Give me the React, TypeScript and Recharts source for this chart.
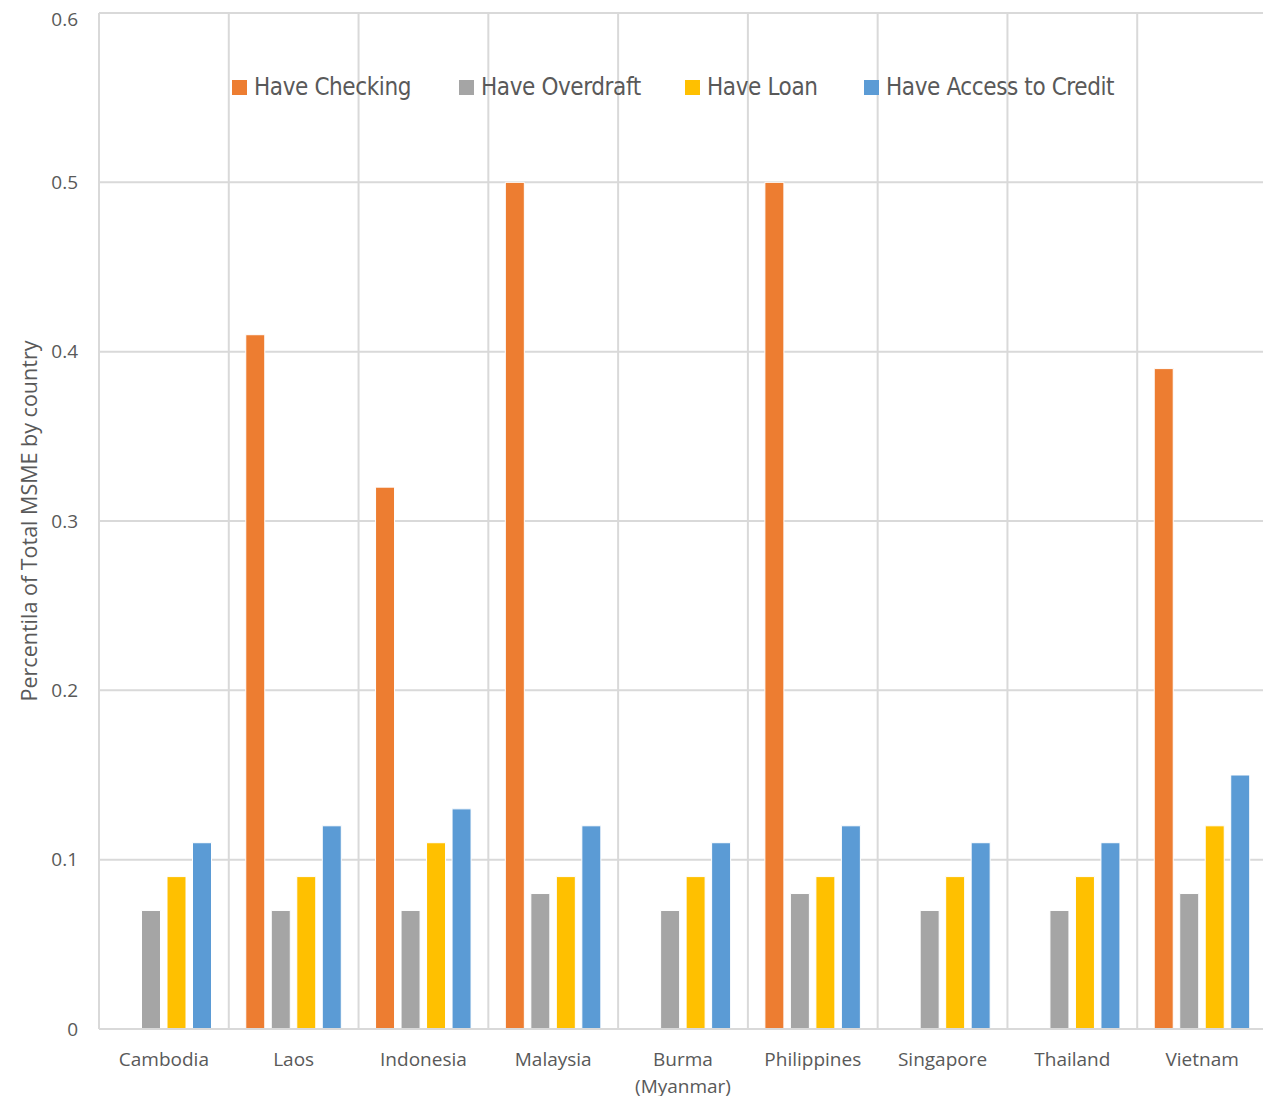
import React from "react";
import { Bar, BarChart, CartesianGrid, XAxis, YAxis } from "recharts";

const countries = [
  "Cambodia",
  "Laos",
  "Indonesia",
  "Malaysia",
  "Burma (Myanmar)",
  "Philippines",
  "Singapore",
  "Thailand",
  "Vietnam",
];
const haveChecking = [0, 0.41, 0.32, 0.5, 0, 0.5, 0, 0, 0.39];
const haveOverdraft = [0.07, 0.07, 0.07, 0.08, 0.07, 0.08, 0.07, 0.07, 0.08];
const haveLoan = [0.09, 0.09, 0.11, 0.09, 0.09, 0.09, 0.09, 0.09, 0.12];
const haveCredit = [0.11, 0.12, 0.13, 0.12, 0.11, 0.12, 0.11, 0.11, 0.15];
const yTicks = [0, 0.1, 0.2, 0.3, 0.4, 0.5, 0.6];

const series = [
  { key: "checking", name: "Have Checking", color: "#ED7D31" },
  { key: "overdraft", name: "Have Overdraft", color: "#A5A5A5" },
  { key: "loan", name: "Have Loan", color: "#FFC000" },
  { key: "credit", name: "Have Access to Credit", color: "#5B9BD5" },
];

const data = countries.map((name, i) => ({
  name,
  checking: haveChecking[i],
  overdraft: haveOverdraft[i],
  loan: haveLoan[i],
  credit: haveCredit[i],
}));

const tickFont = "'Open Sans', 'Liberation Sans', sans-serif";
const legendItemWidths = [227, 226, 179, 280];

function CountryTick({ x, y, payload }: any) {
  const lines = String(payload.value).replace(" (", "\n(").split("\n");
  return (
    <text x={x} y={y} textAnchor="middle" fill="#595959" fontSize={19} fontFamily={tickFont}>
      {lines.map((line, i) => (
        <tspan key={i} x={x} dy={i === 0 ? 29 : 27}>
          {line}
        </tspan>
      ))}
    </text>
  );
}

function TopLegend() {
  return (
    <div
      style={{
        position: "absolute",
        top: 63,
        left: 224,
        display: "flex",
        fontFamily: "'DejaVu Sans Condensed', 'Liberation Sans', sans-serif",
        fontSize: 24,
        letterSpacing: -0.4,
        color: "#595959",
        lineHeight: "32px",
        pointerEvents: "none",
      }}
    >
      {series.map((s, i) => (
        <div key={s.key} style={{ display: "flex", alignItems: "center", width: legendItemWidths[i] }}>
          <span
            style={{ width: 15, height: 15, background: s.color, marginRight: 7, display: "inline-block" }}
          />
          <span style={{ whiteSpace: "nowrap" }}>{s.name}</span>
        </div>
      ))}
    </div>
  );
}

// vertical grid lines sit on category boundaries, like the Excel original
const boundaryLines = ({ offset }: any) =>
  Array.from({ length: countries.length + 1 }, (_, i) => offset.left + (i * offset.width) / countries.length);

export default function App() {
  return (
    <div style={{ position: "relative", width: 1263, height: 1088, background: "#fff" }}>
      <BarChart
        width={1263}
        height={1088}
        data={data}
        margin={{ top: 5, right: 4, left: 0, bottom: 7 }}
        barSize={19}
        barGap={6.5}
      >
        <CartesianGrid
          stroke="#d9d9d9"
          strokeWidth={2}
          verticalCoordinatesGenerator={boundaryLines}
        />
        <XAxis
          dataKey="name"
          height={60}
          interval={0}
          tickLine={false}
          axisLine={{ stroke: "#d9d9d9", strokeWidth: 2 }}
          tick={<CountryTick />}
        />
        <YAxis
          width={91}
          domain={[0, 0.6]}
          ticks={yTicks}
          tickLine={false}
          axisLine={{ stroke: "#d9d9d9", strokeWidth: 2 }}
          tickMargin={15}
          tick={{ fill: "#595959", fontSize: 19, fontFamily: tickFont }}
          label={{
            value: "Percentila of Total MSME by country",
            angle: -90,
            position: "insideLeft",
            offset: 21,
            style: { textAnchor: "middle", fill: "#595959", fontSize: 21.5, fontFamily: tickFont },
          }}
        />
        {series.map((s) => (
          <Bar
            key={s.key}
            dataKey={s.key}
            name={s.name}
            fill={s.color}
            stroke="#ffffff"
            strokeWidth={1}
            isAnimationActive={false}
          />
        ))}
      </BarChart>
      <TopLegend />
    </div>
  );
}
